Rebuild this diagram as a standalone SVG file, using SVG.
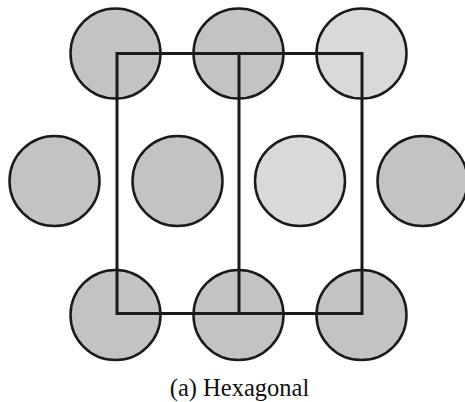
<svg xmlns="http://www.w3.org/2000/svg" width="465" height="402" viewBox="0 0 465 402">
<style>
.atom{stroke:#1a1a1a;stroke-width:2.5}
.dark{fill:#c3c3c3}
.light{fill:#d9d9d9}
.cell{fill:none;stroke:#1a1a1a;stroke-width:3}
.label{font-family:"Liberation Serif","Times New Roman",serif;font-size:24.5px;fill:#111;text-anchor:middle}
</style>
<rect width="465" height="402" fill="#fff"/>
<g id="a1"><circle class="atom dark" cx="115.5" cy="53.5" r="45"/></g>
<g id="a2"><circle class="atom dark" cx="238.5" cy="53.5" r="45"/></g>
<g id="a3"><circle class="atom light" cx="361.5" cy="53.5" r="45"/></g>
<g id="b1"><circle class="atom dark" cx="54.5" cy="181" r="45"/></g>
<g id="b2"><circle class="atom dark" cx="177.5" cy="181" r="45"/></g>
<g id="b3"><circle class="atom light" cx="300" cy="181" r="45"/></g>
<g id="b4"><circle class="atom dark" cx="422.5" cy="181" r="45"/></g>
<g id="c1"><circle class="atom dark" cx="115.5" cy="315" r="45"/></g>
<g id="c2"><circle class="atom dark" cx="238.5" cy="315" r="45"/></g>
<g id="c3"><circle class="atom dark" cx="361.5" cy="315" r="45"/></g>
<g id="connectors">
<rect class="cell" x="117" y="53.5" width="245" height="260"/>
<line class="cell" x1="239" y1="53.5" x2="239" y2="313.5"/>
</g>
<text class="label" x="239.5" y="396">(a) Hexagonal</text>
</svg>
